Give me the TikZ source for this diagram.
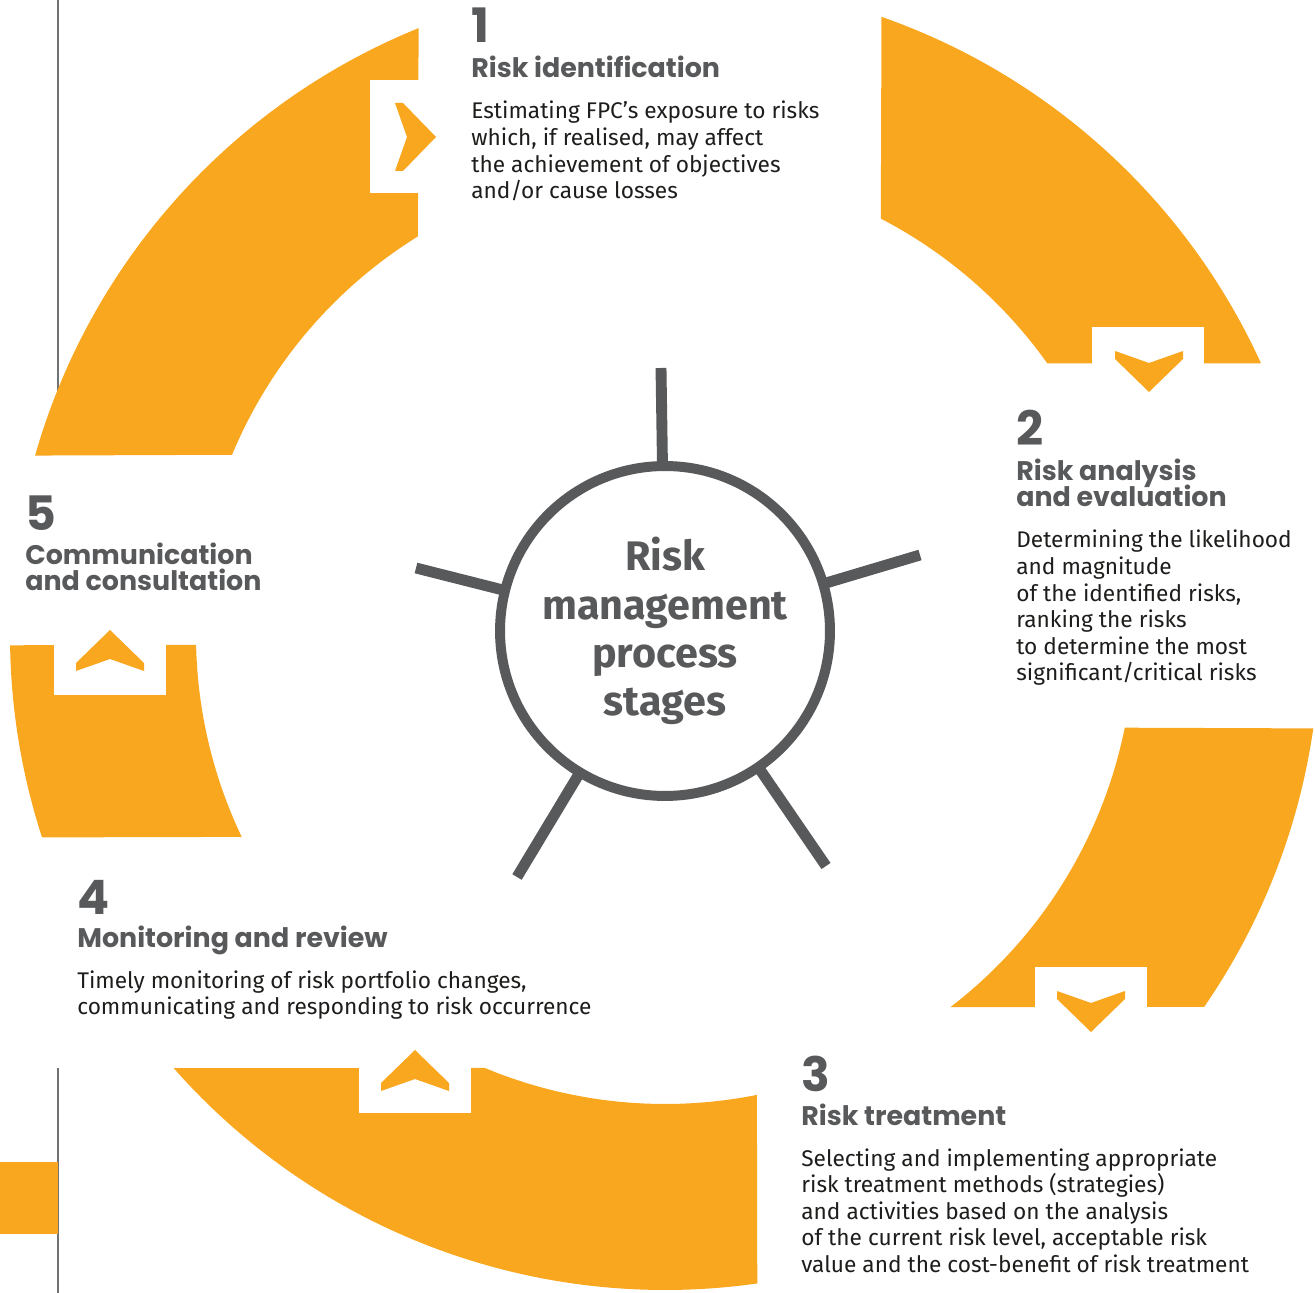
\documentclass[tikz,border=0pt]{standalone}
\usepackage{fontspec}
\setmainfont{Fira Sans}
\newfontfamily\headfont{Poppins}
\usepackage{tikz}
\usetikzlibrary{positioning}

\definecolor{riskorange}{HTML}{F9A71E}
\definecolor{riskgrey}{HTML}{58595B}
\definecolor{riskink}{HTML}{1D1D1B}

% left-aligned lines, baseline on the first line
\newcommand{\textlines}[1]{\vtop{\lineskiplimit=-\maxdimen
  \let\\\cr\halign{##\hfil\cr#1\crcr}}}

\tikzset{
  seg/.style={fill=riskorange},
  notch/.style={fill=white},
  spoke/.style={draw=riskgrey, line width=6.2pt},
  rule/.style={draw=riskgrey!85, line width=0.9pt},
  num/.style={anchor=base west, inner sep=0pt, text=riskgrey,
    font=\headfont\bfseries\fontsize{27}{27}\selectfont},
  head/.style={anchor=base west, inner sep=0pt, text=riskgrey,
    font=\headfont\bfseries\fontsize{15.3}{14.7}\selectfont},
  body/.style={anchor=base west, inner sep=0pt, text=riskink,
    font=\fontsize{12.9}{15.13}\selectfont},
  hub/.style={circle, draw=riskgrey, line width=5.67pt, fill=white,
    minimum size=6.6cm, align=center, text=riskgrey,
    font=\bfseries\fontsize{23.5}{27.4}\selectfont},
  chevron/.pic={\fill[riskorange] (0,0) -- (34,-33) -- (34,-41) -- (0,-29)
    -- (-34,-41) -- (-34,-33) -- cycle;}
}

\begin{document}
\begin{tikzpicture}[x=0.02cm, y=0.02cm]
  \useasboundingbox (0,0) rectangle (1315,-1293);

  % page rules at the left margin
  \draw[rule] (58,0) -- (58,-440);
  \draw[rule] (58,-1068) -- (58,-1293);
  \fill[riskorange] (0,-1162) rectangle (58,-1234);

  % the five ring segments
  \begin{scope}[shift={(665,-635)}]
    \fill[seg] (164.1:655) arc[start angle=164.1, end angle=112.1, radius=655]
      -- (121.8:469) arc[start angle=121.8, end angle=157.4, radius=469] -- cycle;
    \fill[seg] (70.7:655) arc[start angle=70.7, end angle=24.5, radius=655]
      -- (35.4:469) arc[start angle=35.4, end angle=62.6, radius=469] -- cycle;
    \fill[seg] (-8.2:655) arc[start angle=-8.2, end angle=-34.6, radius=655]
      -- (-52.5:469) arc[start angle=-52.5, end angle=-11.4, radius=469] -- cycle;
    \fill[seg] (221.4:655) arc[start angle=221.4, end angle=278.1, radius=655]
      -- (281.3:469) arc[start angle=281.3, end angle=247.4, radius=469] -- cycle;
    \fill[seg] (180.9:655) arc[start angle=180.9, end angle=198.0, radius=655]
      -- (205.5:469) arc[start angle=205.5, end angle=181.2, radius=469] -- cycle;
  \end{scope}

  % notches and arrows
  \fill[notch] (370,-80) rectangle (425,-193);
  \fill[notch] (1092,-327) rectangle (1204,-370);
  \fill[notch] (1035,-967) rectangle (1147,-1015);
  \fill[notch] (359,-1060) rectangle (471,-1113);
  \fill[notch] (54,-638) rectangle (166,-695);
  \pic[rotate=-90] at (436,-137) {chevron};
  \pic[rotate=180] at (1149,-392) {chevron};
  \pic[rotate=180] at (1091,-1032) {chevron};
  \pic at (415,-1050) {chevron};
  \pic at (110,-630) {chevron};

  % hub with spokes
  \coordinate (c) at (665,-631);
  \coordinate (s1) at (661,-368);
  \coordinate (s2) at (920,-555);
  \coordinate (s3) at (826,-866);
  \coordinate (s4) at (517,-877);
  \coordinate (s5) at (416,-568);
  \foreach \s in {s1,s2,s3,s4,s5}
    \draw[spoke] (c) -- (\s);
  \node[hub] (hub) at (c) {Risk\\management\\process\\stages};

  % stage 1
  \node[num] (num1) at (471,-43) {1};
  \node[head] (head1) at (471,-78) {Risk identification};
  \node[body] (body1) at (471,-119) {\textlines{Estimating FPC’s exposure to risks\\which, if realised, may affect\\the achievement of objectives\\and/or cause losses}};

  % stage 2
  \node[num] (num2) at (1016,-446) {2};
  \node[head] (head2) at (1016,-481) {\textlines{Risk analysis\\and evaluation}};
  \node[body] (body2) at (1016,-548) {\textlines{Determining the likelihood\\and magnitude\\of the identified risks,\\ranking the risks\\to determine the most\\significant/critical risks}};

  % stage 3
  \node[num] (num3) at (801,-1091) {3};
  \node[head] (head3) at (801,-1125) {Risk treatment};
  \node[body] (body3) at (801,-1166) {\textlines{Selecting and implementing appropriate\\risk treatment methods (strategies)\\and activities based on the analysis\\of the current risk level, acceptable risk\\value and the cost-benefit of risk treatment}};

  % stage 4
  \node[num] (num4) at (77,-914) {4};
  \node[head] (head4) at (77,-947) {Monitoring and review};
  \node[body] (body4) at (77,-988) {\textlines{Timely monitoring of risk portfolio changes,\\communicating and responding to risk occurrence}};

  % stage 5
  \node[num] (num5) at (25,-531) {5};
  \node[head] (head5) at (25,-565) {\textlines{Communication\\and consultation}};
\end{tikzpicture}
\end{document}
